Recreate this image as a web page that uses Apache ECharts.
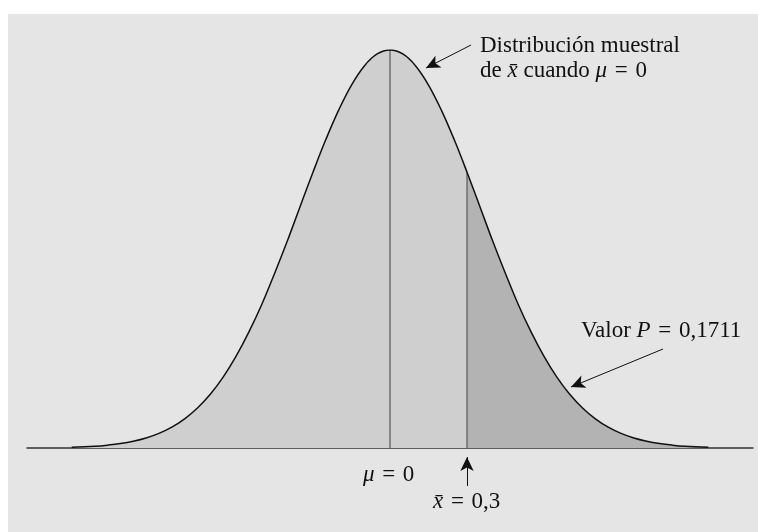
<!DOCTYPE html>
<html>
<head>
<meta charset="utf-8">
<script src="https://cdn.jsdelivr.net/npm/echarts@6/dist/echarts.min.js"></script>
<style>
  html, body { margin: 0; padding: 0; background: #fff; }
  #main { width: 758px; height: 532px; }
</style>
</head>
<body>
<div id="main"></div>
<script>
// sampling distribution of x-bar (heights relative to the peak)
var xs = [-1.24, -1.15, -1.1, -1.05, -1.0, -0.95, -0.9, -0.85, -0.8, -0.75, -0.7, -0.65, -0.6, -0.55, -0.5, -0.45, -0.4, -0.35, -0.3, -0.25, -0.2, -0.15, -0.1, -0.05,
  0, 0.05, 0.1, 0.15, 0.2, 0.25, 0.3, 0.35, 0.4, 0.45, 0.5, 0.55, 0.6, 0.65, 0.7, 0.75, 0.8, 0.85, 0.9, 0.95, 1.0, 1.05, 1.1, 1.15, 1.24];
var ys = [0.0019, 0.0045, 0.0072, 0.0111, 0.0169, 0.0251, 0.0367, 0.0524, 0.0734, 0.1007, 0.135, 0.178, 0.230, 0.291, 0.360, 0.438, 0.520, 0.607, 0.693, 0.775, 0.849, 0.912, 0.960, 0.990,
  1.0, 0.990, 0.960, 0.912, 0.849, 0.775, 0.693, 0.607, 0.520, 0.438, 0.360, 0.291, 0.230, 0.178, 0.135, 0.1007, 0.0734, 0.0524, 0.0367, 0.0251, 0.0169, 0.0111, 0.0072, 0.0045, 0.0019];
var mu = 0;
var xbar = 0.3;
var pValue = '0,1711';

var curve = xs.map(function (x, i) { return [x, ys[i]]; });
var leftPart = curve.filter(function (p) { return p[0] <= xbar; });
var rightPart = curve.filter(function (p) { return p[0] >= xbar; });
var muHeight = ys[xs.indexOf(mu)];
var xbarHeight = ys[xs.indexOf(xbar)];

var serif = '"Liberation Serif", "Times New Roman", serif';
var fs = 23;
var eq = '\u2004=\u2004';
var italic = { i: { fontStyle: 'italic', fontFamily: serif, fontSize: fs, fill: '#111' } };

var chart = echarts.init(document.getElementById('main'));
var option = {
  backgroundColor: '#ffffff',
  animation: false,
  grid: { left: 27, right: 5, top: 50, bottom: 84 },
  xAxis: {
    type: 'value',
    min: -1.414,
    max: 1.414,
    axisLine: { show: true, onZero: true, lineStyle: { color: '#333', width: 1.5 } },
    axisTick: { show: false },
    axisLabel: { show: false },
    splitLine: { show: false }
  },
  yAxis: {
    type: 'value',
    min: 0,
    max: 1,
    show: false
  },
  graphic: [
    { type: 'rect', z: -10, shape: { x: 8, y: 14, width: 750, height: 518 }, style: { fill: '#e5e5e5' } },
    {
      type: 'text', left: 480, top: 34, z: 100,
      style: { text: 'Distribución muestral', font: fs + 'px ' + serif, fill: '#111' }
    },
    {
      type: 'text', left: 480, top: 59, z: 100,
      style: { text: 'de {i|x̄} cuando {i|μ}' + eq + '0', font: fs + 'px ' + serif, fill: '#111', rich: italic }
    },
    {
      type: 'text', left: 581, top: 319, z: 100,
      style: { text: 'Valor {i|P}' + eq + pValue, font: fs + 'px ' + serif, fill: '#111', rich: italic }
    },
    {
      type: 'text', left: 363, top: 463, z: 100,
      style: { text: '{i|μ}' + eq + '0', font: fs + 'px ' + serif, fill: '#111', rich: italic }
    },
    {
      type: 'text', left: 433, top: 490, z: 100,
      style: { text: '{i|x̄}' + eq + '0,3', font: fs + 'px ' + serif, fill: '#111', rich: italic }
    }
  ],
  series: [
    {
      type: 'line', data: leftPart, smooth: 0.4, symbol: 'none',
      lineStyle: { width: 0 },
      areaStyle: { color: '#cfcfcf', opacity: 1 },
      z: 1
    },
    {
      type: 'line', data: rightPart, smooth: 0.4, symbol: 'none',
      lineStyle: { width: 0 },
      areaStyle: { color: '#b3b3b3', opacity: 1 },
      z: 1
    },
    {
      type: 'line', data: [[mu, 0], [mu, muHeight]], symbol: 'none',
      lineStyle: { color: '#6e6e6e', width: 1.5 }, z: 2
    },
    {
      type: 'line', data: [[xbar, 0], [xbar, xbarHeight]], symbol: 'none',
      lineStyle: { color: '#6e6e6e', width: 1.5 }, z: 2
    },
    {
      type: 'line', data: curve, smooth: 0.4, symbol: 'none',
      lineStyle: { color: '#111', width: 1.5 }, z: 3,
      markLine: {
        silent: true,
        symbol: ['none', 'arrow'],
        symbolSize: [10, 14],
        label: { show: false },
        lineStyle: { color: '#111', width: 1, type: 'solid' },
        data: [
          [{ x: 471, y: 45 }, { x: 426, y: 68 }],
          [{ x: 663, y: 349 }, { x: 571, y: 387 }],
          [{ x: 467, y: 486 }, { x: 467, y: 457 }]
        ]
      }
    }
  ]
};
chart.setOption(option);
</script>
</body>
</html>
